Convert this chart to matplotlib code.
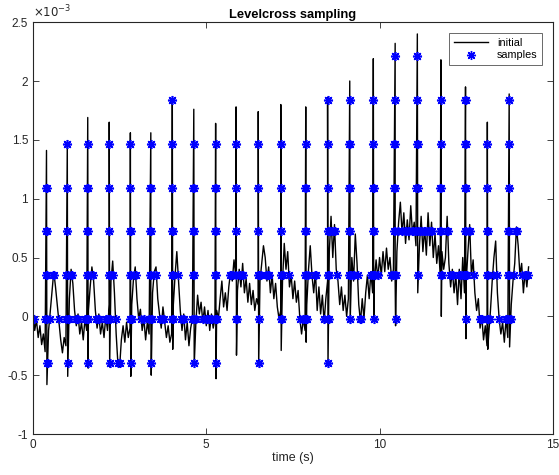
import numpy as np
import matplotlib
matplotlib.use("Agg")
import matplotlib.pyplot as plt
from matplotlib.ticker import FuncFormatter

# ---------------- data (values in units of 1e-3) ----------------
dt = 0.05  # baseline sampling interval (s)
baseline = [
    # 0.00 - 0.95
    0.05, -0.12, -0.03, -0.18, -0.08, -0.24, -0.15, -0.30, -0.28, -0.12,
    0.05, 0.22, 0.38, 0.25, 0.10, -0.05, -0.20, -0.31, -0.18, -0.25,
    # 1.00 - 1.95
    -0.10, 0.15, 0.40, 0.28, 0.05, -0.08, 0.02, -0.15, -0.05, -0.20,
    -0.02, -0.12, 0.05, 0.25, 0.42, 0.30, 0.05, -0.10, 0.02, -0.15,
    # 2.00 - 2.95
    -0.05, -0.18, 0.00, -0.12, 0.10, 0.30, 0.47, 0.20, -0.15, -0.40,
    -0.43, -0.20, -0.08, -0.22, -0.05, -0.18, -0.10, 0.10, 0.32, 0.42,
    # 3.00 - 3.95
    0.15, -0.02, 0.06, -0.12, -0.02, -0.20, -0.05, -0.15, 0.00, 0.20,
    0.38, 0.42, 0.15, 0.02, -0.10, 0.08, -0.05, -0.18, -0.08, -0.22,
    # 4.00 - 4.95
    -0.15, 0.10, 0.35, 0.55, 0.30, 0.05, -0.12, 0.02, -0.20, -0.05,
    -0.25, -0.10, -0.02, 0.05, -0.05, 0.18, 0.02, 0.12, -0.05, 0.08,
    # 5.00 - 5.95
    -0.08, 0.05, -0.12, 0.02, -0.10, -0.02, 0.05, -0.02, 0.15, 0.30,
    0.08, 0.20, 0.05, 0.25, 0.38, 0.30, 0.48, 0.35, 0.22, 0.40,
    # 6.00 - 6.95
    0.25, 0.45, 0.20, 0.32, 0.12, 0.28, 0.10, 0.22, 0.05, 0.15,
    0.10, 0.30, 0.45, 0.60, 0.50, 0.30, 0.42, 0.20, 0.35, 0.15,
    # 7.00 - 7.95
    0.28, 0.08, -0.02, 0.05, 0.30, 0.62, 0.40, 0.55, 0.25, 0.35,
    0.15, 0.30, 0.12, 0.22, -0.02, -0.15, -0.02, -0.12, 0.10, 0.40,
    # 8.00 - 8.95
    0.60, 0.35, 0.20, 0.38, 0.05, 0.25, 0.02, 0.18, -0.05, 0.15,
    0.30, 0.55, 0.85, 0.50, 0.78, 0.40, 0.30, 0.10, 0.25, 0.05,
    # 9.00 - 9.95
    0.18, 0.00, 0.15, 0.30, 0.50, 0.30, 0.70, 0.45, 0.10, -0.05,
    0.15, -0.02, 0.20, 0.35, 0.15, 0.38, 0.20, 0.30, 0.48, 0.32,
    # 10.00 - 10.95
    0.50, 0.35, 0.55, 0.38, 0.58, 0.40, 0.50, 0.30, 0.40, 0.30,
    0.55, 0.80, 0.97, 0.70, 0.88, 0.62, 0.82, 0.65, 0.94, 0.70,
    # 11.00 - 11.95
    0.80, 0.60, 0.45, 0.60, 0.85, 0.55, 0.75, 0.52, 0.88, 0.60,
    0.80, 0.50, 0.70, 0.45, 0.60, 0.35, 0.55, 0.40, 0.50, 0.85,
    # 12.00 - 12.95
    0.45, 0.25, 0.40, 0.20, 0.35, 0.10, 0.40, 0.15, 0.50, 0.20,
    0.30, 0.55, 0.78, 0.35, 0.48, 0.20, 0.05, 0.15, -0.10, 0.00,
    # 13.00 - 13.95
    -0.20, -0.08, -0.25, -0.15, 0.05, 0.30, 0.50, 0.64, 0.20, -0.02,
    -0.15, -0.05, -0.22, -0.02, -0.18, -0.05, 0.10, 0.30, 0.45, 0.76,
    # 14.00 - 14.30
    0.60, 0.35, 0.45, 0.20, 0.38, 0.25, 0.42,
]

spike_t = [0.39, 0.99, 1.58, 2.20, 2.81, 3.40, 4.02, 4.64, 5.27, 5.86, 6.50,
           7.15, 7.87, 8.50, 9.14, 9.82, 10.45, 11.09, 11.77, 12.48, 13.11, 13.74]
spike_top = [1.41, 1.47, 1.69, 1.65, 1.56, 1.56, 1.85, 1.76, 1.64, 1.78, 1.74,
             1.80, 1.78, 1.86, 2.00, 2.19, 2.32, 2.40, 2.18, 1.95, 1.65, 1.89]
spike_bottom = [-0.58, -0.51, -0.44, -0.43, -0.51, -0.50, -0.28, -0.42, -0.53, -0.33, -0.42,
                -0.29, -0.22, -0.42, -0.05, -0.04, -0.08, 0.20, 0.00, -0.19, -0.28, -0.26]

levels = [-0.394, -0.022, 0.350, 0.722, 1.094, 1.466, 1.838, 2.210]

x_ticks = [0, 5, 10, 15]
y_ticks = [-1, -0.5, 0, 0.5, 1, 1.5, 2, 2.5]

# ---------------- build signal ----------------
pts = [(i * dt, v) for i, v in enumerate(baseline)]
for ts, top, bot in zip(spike_t, spike_top, spike_bottom):
    pts.append((ts, top))
    pts.append((ts + 0.012, bot))
pts.sort(key=lambda p: p[0])
sig_t = np.array([p[0] for p in pts])
sig_v = np.array([p[1] for p in pts]) * 1e-3

# level-crossing samples
samp_t, samp_v = [], []
for k in range(len(sig_t) - 1):
    v0, v1 = sig_v[k], sig_v[k + 1]
    for L in levels:
        Lv = L * 1e-3
        if (v0 - Lv) * (v1 - Lv) < 0:
            f = (Lv - v0) / (v1 - v0)
            samp_t.append(sig_t[k] + f * (sig_t[k + 1] - sig_t[k]))
            samp_v.append(Lv)

# ---------------- plot ----------------
plt.rcParams['font.family'] = ['Liberation Sans', 'DejaVu Sans']
plt.rcParams['axes.unicode_minus'] = False
fig = plt.figure(figsize=(5.59, 4.75), dpi=100)
ax = fig.add_axes([0.059, 0.0863, 0.930, 0.867])

ax.plot(sig_t, sig_v, color='black', lw=1.0, label='initial')
ax.plot(samp_t, samp_v, linestyle='none', marker=(8, 2, 0), markersize=6.5,
        markeredgewidth=1.0, color='#0000ff', label='samples')

ax.set_xlim(0, 15)
ax.set_ylim(-1e-3, 2.5e-3)
ax.set_xticks(x_ticks)
ax.set_yticks([v * 1e-3 for v in y_ticks])
ax.yaxis.set_major_formatter(FuncFormatter(lambda v, p: '%g' % round(v * 1e3, 6)))
ax.text(0.0, 1.004, r'$\times10^{-3}$', transform=ax.transAxes, ha='left',
        va='bottom', fontsize=8.5, color='#262626')

ax.tick_params(direction='in', length=4, width=0.6, labelsize=8.5,
               colors='#262626', top=True, right=True)
for s in ax.spines.values():
    s.set_linewidth(0.8)
    s.set_color('#262626')

ax.set_title('Levelcross sampling', fontsize=9.3, fontweight='bold', pad=3)
ax.set_xlabel('time (s)', fontsize=9, color='#262626', labelpad=1)

leg = ax.legend(loc='upper right', bbox_to_anchor=(0.979, 0.973), fontsize=7.8,
                frameon=True, fancybox=False, edgecolor='#262626',
                borderaxespad=0, handlelength=3.2, borderpad=0.4, labelspacing=0.25)
leg.get_frame().set_linewidth(0.6)

fig.savefig('out.png', dpi=100)
